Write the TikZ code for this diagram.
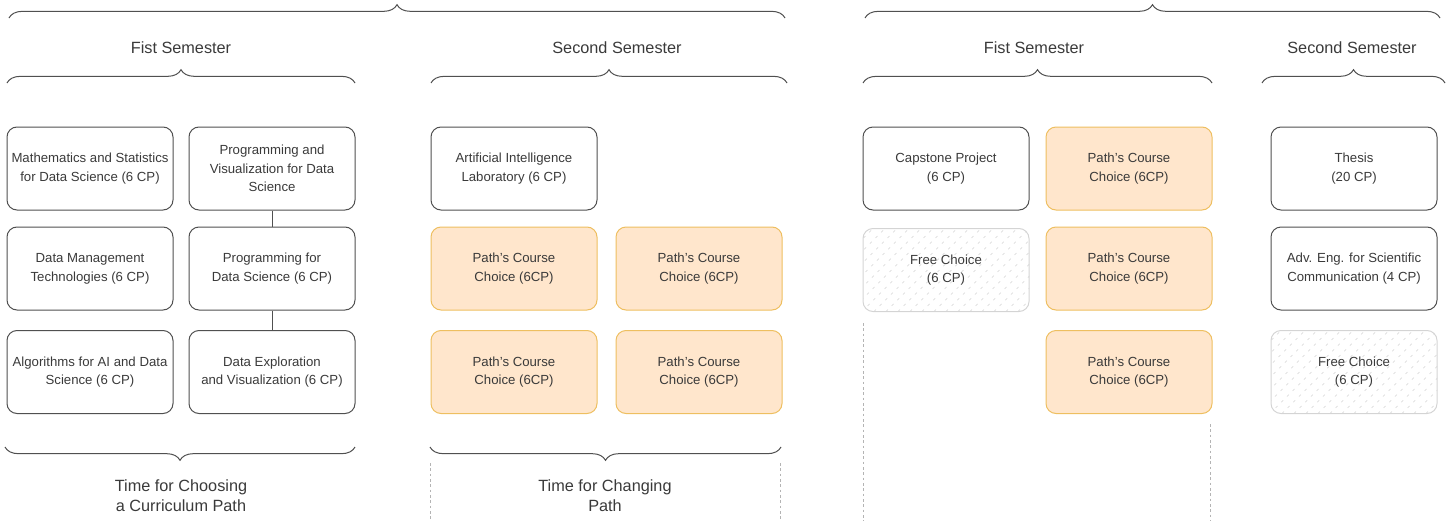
\documentclass[tikz,border=0pt]{standalone}
\usepackage{fontspec}
\setmainfont{Liberation Sans}
\usetikzlibrary{positioning}
\usetikzlibrary{decorations.pathreplacing}

\definecolor{boxline}{HTML}{505050}
\definecolor{boxtext}{HTML}{3A3A3A}
\definecolor{pathfill}{HTML}{FFE6CC}
\definecolor{pathline}{HTML}{EEBF60}
\definecolor{freeline}{HTML}{D4D4D4}
\definecolor{hatch}{HTML}{D2D2D2}
\definecolor{guideline}{HTML}{B4B4B4}

\tikzstyle{course} = [
    rectangle,
    rounded corners=7.5pt,
    draw=boxline,
    line width=0.75pt,
    minimum width=124.5pt,
    minimum height=62.25pt,
    inner sep=2pt,
    align=center,
    text=boxtext,
    font=\fontsize{9.9}{14}\selectfont
]
\tikzstyle{pathcourse} = [course, draw=pathline, fill=pathfill]
\tikzstyle{freecourse} = [
    course,
    draw=freeline,
    path picture={
        \foreach \k in {-14,...,14}
            \draw[hatch, line width=0.45pt, dash pattern=on 2pt off 4pt]
                ([xshift=\k*9pt]path picture bounding box.south) -- ++(70pt,70pt);
    }
]
\tikzstyle{semtitle} = [font=\fontsize{12.2}{15}\selectfont, text=boxtext, align=center]
\tikzstyle{semspan}  = [draw=boxline, line width=0.75pt, decorate,
                        decoration={brace, amplitude=10pt}]
\tikzstyle{link}     = [draw=boxline, line width=0.75pt]
\tikzstyle{guide}    = [draw=guideline, line width=0.6pt, dash pattern=on 2pt off 2pt]
\newcommand{\pathchoice}{Path's Course\\Choice (6CP)}

\begin{document}
\begin{tikzpicture}[x=0.75pt, y=-0.75pt]
\useasboundingbox (0,0) rectangle (1453,521);

% year braces
\draw[semspan] (9,18)    -- (785,18);
\draw[semspan] (865,18)  -- (1440,18);

% semester titles and braces
\node[semtitle] (t1) at (181,48)  {Fist Semester};
\node[semtitle] (t2) at (617,48)  {Second Semester};
\node[semtitle] (t3) at (1034,48) {Fist Semester};
\node[semtitle] (t4) at (1352,48) {Second Semester};

\draw[semspan] (7,83)    -- (355,83);
\draw[semspan] (431,83)  -- (787,83);
\draw[semspan] (863,83)  -- (1212,83);
\draw[semspan] (1262,83) -- (1445,83);

% first year, first semester
\node[course] (math)  at (90,168.5)  {Mathematics and Statistics\\for Data Science (6 CP)};
\node[course] (pvds)  at (272,168.5) {Programming and\\Visualization for Data\\Science};
\node[course] (dmt)   at (90,268.5)  {Data Management\\Technologies (6 CP)};
\node[course] (pds)   at (272,268.5) {Programming for\\Data Science (6 CP)};
\node[course] (algo)  at (90,372)    {Algorithms for AI and Data\\Science (6 CP)};
\node[course] (dev)   at (272,372)   {Data Exploration\\and Visualization (6 CP)};

\draw[link] (pvds) -- (pds);
\draw[link] (pds)  -- (dev);

% first year, second semester
\node[course]     (ailab) at (514,168.5) {Artificial Intelligence\\Laboratory (6 CP)};
\node[pathcourse] (pc1)   at (514,268.5) {\pathchoice};
\node[pathcourse] (pc2)   at (699,268.5) {\pathchoice};
\node[pathcourse] (pc3)   at (514,372)   {\pathchoice};
\node[pathcourse] (pc4)   at (699,372)   {\pathchoice};

% second year, first semester
\node[course]     (cap)   at (946,168.5)  {Capstone Project\\(6 CP)};
\node[freecourse] (free1) at (946,270)    {Free Choice\\(6 CP)};
\node[pathcourse] (pc5)   at (1129,168.5) {\pathchoice};
\node[pathcourse] (pc6)   at (1129,268.5) {\pathchoice};
\node[pathcourse] (pc7)   at (1129,372)   {\pathchoice};

% second year, second semester
\node[course]     (thesis) at (1354,168.5) {Thesis\\(20 CP)};
\node[course]     (adv)    at (1354,268.5) {Adv. Eng. for Scientific\\Communication (4 CP)};
\node[freecourse] (free2)  at (1354,372)   {Free Choice\\(6 CP)};

% bottom braces and notes
\draw[semspan] (355,447) -- (5,447);
\draw[semspan] (781,447) -- (430,447);
\node[semtitle] (choose) at (181,496) {Time for Choosing\\a Curriculum Path};
\node[semtitle] (change) at (605,496) {Time for Changing\\Path};

% dashed guides
\draw[guide] (430,463)  -- (430,521);
\draw[guide] (780,463)  -- (780,521);
\draw[guide] (863,323)  -- (863,521);
\draw[guide] (1210,424) -- (1210,521);

\end{tikzpicture}
\end{document}
